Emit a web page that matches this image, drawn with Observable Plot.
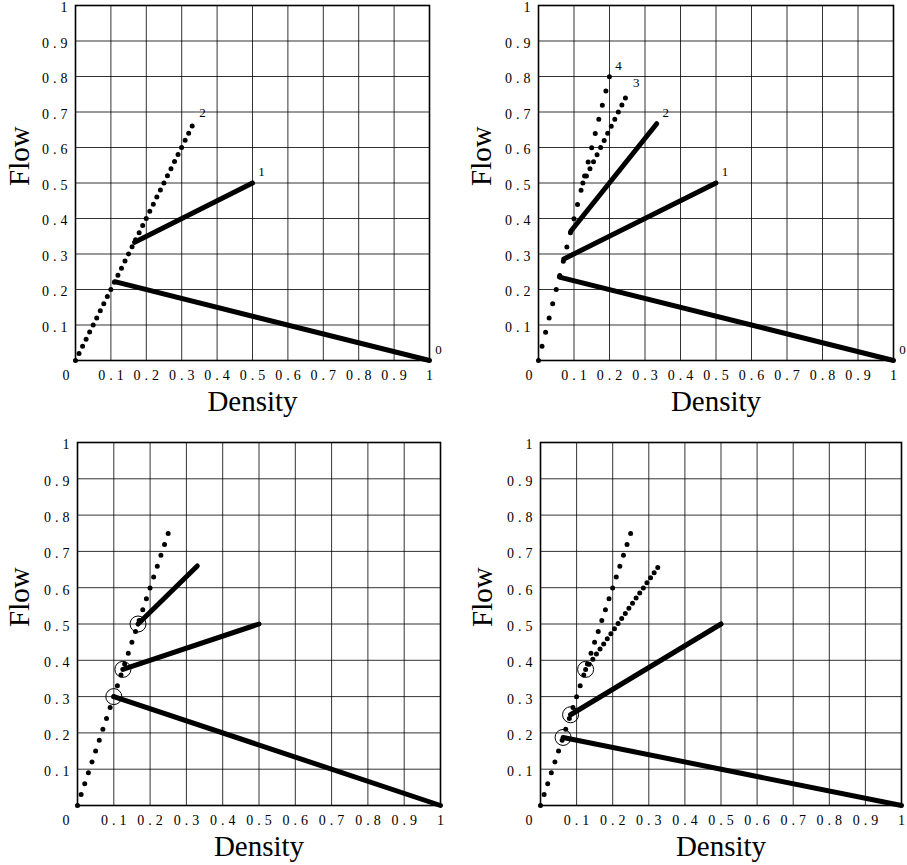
<!DOCTYPE html>
<html><head><meta charset="utf-8">
<script src="https://cdn.jsdelivr.net/npm/d3@7"></script>
<script src="https://cdn.jsdelivr.net/npm/@observablehq/plot@0.6"></script>
<style>
body{margin:0;background:#fff;}
#wrap{position:relative;width:907px;height:865px;}
#wrap svg{position:absolute;overflow:visible;}
#wrap svg text{font-family:'Liberation Serif','DejaVu Serif',serif;}
</style>
</head><body><div id="wrap"></div>
<script>
// ---- data ----
const xTicks = [0, 0.1, 0.2, 0.3, 0.4, 0.5, 0.6, 0.7, 0.8, 0.9, 1];
const yTicks = [0.1, 0.2, 0.3, 0.4, 0.5, 0.6, 0.7, 0.8, 0.9, 1];
const xLabel = "Density";
const yLabel = "Flow";

// each segment runs from its lower start (x1,y1) to its labelled end (x2,y2)
const topLeftSolid = [
  {label: "0", x1: 0.111, y1: 0.222, x2: 1, y2: 0},
  {label: "1", x1: 0.167, y1: 0.333, x2: 0.5, y2: 0.5}
];
const topLeftDotted = [
  {label: "2", x1: 0, y1: 0, x2: 0.333, y2: 0.667}
];

const topRightSolid = [
  {label: "0", x1: 0.0588, y1: 0.235, x2: 1, y2: 0},
  {label: "1", x1: 0.0714, y1: 0.286, x2: 0.5, y2: 0.5},
  {label: "2", x1: 0.0909, y1: 0.364, x2: 0.333, y2: 0.667}
];
const topRightDotted = [
  {label: "3", x1: 0.125, y1: 0.5, x2: 0.25, y2: 0.75},
  {label: "4", x1: 0, y1: 0, x2: 0.2, y2: 0.8}
];

const bottomLeftSolid = [
  {label: "0", x1: 0.1, y1: 0.3, x2: 1, y2: 0},
  {label: "1", x1: 0.125, y1: 0.375, x2: 0.5, y2: 0.5},
  {label: "2", x1: 0.1667, y1: 0.5, x2: 0.33, y2: 0.66}
];
const bottomLeftDotted = [
  {label: "3", x1: 0, y1: 0, x2: 0.25, y2: 0.75}
];
const bottomLeftCircles = [
  {x: 0.1, y: 0.3}, {x: 0.125, y: 0.375}, {x: 0.1667, y: 0.5}
];

const bottomRightSolid = [
  {label: "0", x1: 0.0625, y1: 0.1875, x2: 1, y2: 0},
  {label: "1", x1: 0.0833, y1: 0.25, x2: 0.5, y2: 0.5}
];
const bottomRightDotted = [
  {label: "2", x1: 0.125, y1: 0.375, x2: 0.333, y2: 0.667},
  {label: "3", x1: 0, y1: 0, x2: 0.25, y2: 0.75}
];
const bottomRightCircles = [
  {x: 0.0625, y: 0.1875}, {x: 0.0833, y: 0.25}, {x: 0.125, y: 0.375}
];

// ---- drawing ----
const FONT = "'Liberation Serif', 'DejaVu Serif', serif";
const DOT_STEP = 0.01; // density step between successive dots (style)

function panel(o) {
  const W = o.width - o.ml - o.mr, H = o.height - o.mt - o.mb;
  const spacing = s => 0.999 * Math.hypot(DOT_STEP * W, DOT_STEP * (s.y2 - s.y1) / (s.x2 - s.x1) * H);
  const marks = [
    Plot.gridX(xTicks.slice(1, -1), {stroke: "#000", strokeOpacity: 0.8, strokeWidth: 1}),
    Plot.gridY(yTicks.slice(0, -1), {stroke: "#000", strokeOpacity: 0.8, strokeWidth: 1}),
    Plot.frame({stroke: "#000", strokeWidth: 1.6}),
    Plot.link(o.solid, {x1: "x1", y1: "y1", x2: "x2", y2: "y2", stroke: "#000", strokeWidth: 5, strokeLinecap: "round"}),
    ...o.dotted.map(s => Plot.link([s], {x1: "x1", y1: "y1", x2: "x2", y2: "y2", stroke: "#000", strokeWidth: 5,
      strokeLinecap: "round", strokeDasharray: `0 ${spacing(s)}`})),
    Plot.axisX(xTicks.slice(1), {tickSize: 0, tickPadding: 10, fontSize: 14, fontFamily: FONT, tickFormat: String, label: null}),
    Plot.axisY(yTicks, {tickSize: 0, tickPadding: 8, fontSize: 14, fontFamily: FONT, dy: 2.5, tickFormat: String, label: null}),
    Plot.text([String(xTicks[0])], {frameAnchor: "bottom-left", lineAnchor: "top", dy: 10, dx: o.zeroDx, fontSize: 14, fontFamily: FONT, text: d => d}),
    Plot.text([xLabel], {frameAnchor: "bottom", lineAnchor: "middle", dy: 41, fontSize: 29, fontFamily: FONT, text: d => d}),
    Plot.text([yLabel], {frameAnchor: "left", lineAnchor: "middle", rotate: -90, dx: o.flowDx, dy: 3, fontSize: 29, fontFamily: FONT, text: d => d})
  ];
  if (o.circles) marks.push(Plot.dot(o.circles, {x: "x", y: "y", r: 8, stroke: "#000", strokeWidth: 1, fill: "none"}));
  if (o.labels) marks.push(Plot.text([...o.solid, ...o.dotted], {x: "x2", y: "y2", text: "label", dx: 9, dy: -11, fontSize: 13, fontFamily: FONT}));
  const svg = Plot.plot({
    width: o.width, height: o.height,
    marginLeft: o.ml, marginRight: o.mr, marginTop: o.mt, marginBottom: o.mb,
    x: {domain: [0, 1]}, y: {domain: [0, 1]},
    style: {fontFamily: FONT, color: "#000", background: "transparent"},
    marks
  });
  // TeX-like wide spacing inside multi-character tick labels
  svg.querySelectorAll('g[aria-label="x-axis tick label"] text').forEach(t => {
    if (t.textContent.length > 1) { t.style.letterSpacing = "4px"; t.setAttribute("dx", "2"); }
  });
  svg.querySelectorAll('g[aria-label="y-axis tick label"] text').forEach(t => {
    if (t.textContent.length > 1) { t.style.letterSpacing = "4px"; t.setAttribute("dx", "4"); }
  });
  svg.style.left = o.left + "px";
  svg.style.top = o.top + "px";
  document.getElementById("wrap").appendChild(svg);
}

panel({left: 0, top: 0, width: 450, height: 430, ml: 75, mr: 21, mt: 5, mb: 70, zeroDx: -13, flowDx: -56,
  solid: topLeftSolid, dotted: topLeftDotted, labels: true});
panel({left: 450, top: 0, width: 457, height: 430, ml: 88, mr: 14, mt: 5, mb: 70, zeroDx: -13, flowDx: -57,
  solid: topRightSolid, dotted: topRightDotted, labels: true});
panel({left: 0, top: 430, width: 450, height: 435, ml: 77, mr: 10, mt: 12, mb: 60, zeroDx: -15, flowDx: -58,
  solid: bottomLeftSolid, dotted: bottomLeftDotted, circles: bottomLeftCircles});
panel({left: 450, top: 430, width: 457, height: 435, ml: 90, mr: 6, mt: 12, mb: 60, zeroDx: -15, flowDx: -58,
  solid: bottomRightSolid, dotted: bottomRightDotted, circles: bottomRightCircles});
</script>
</body></html>
